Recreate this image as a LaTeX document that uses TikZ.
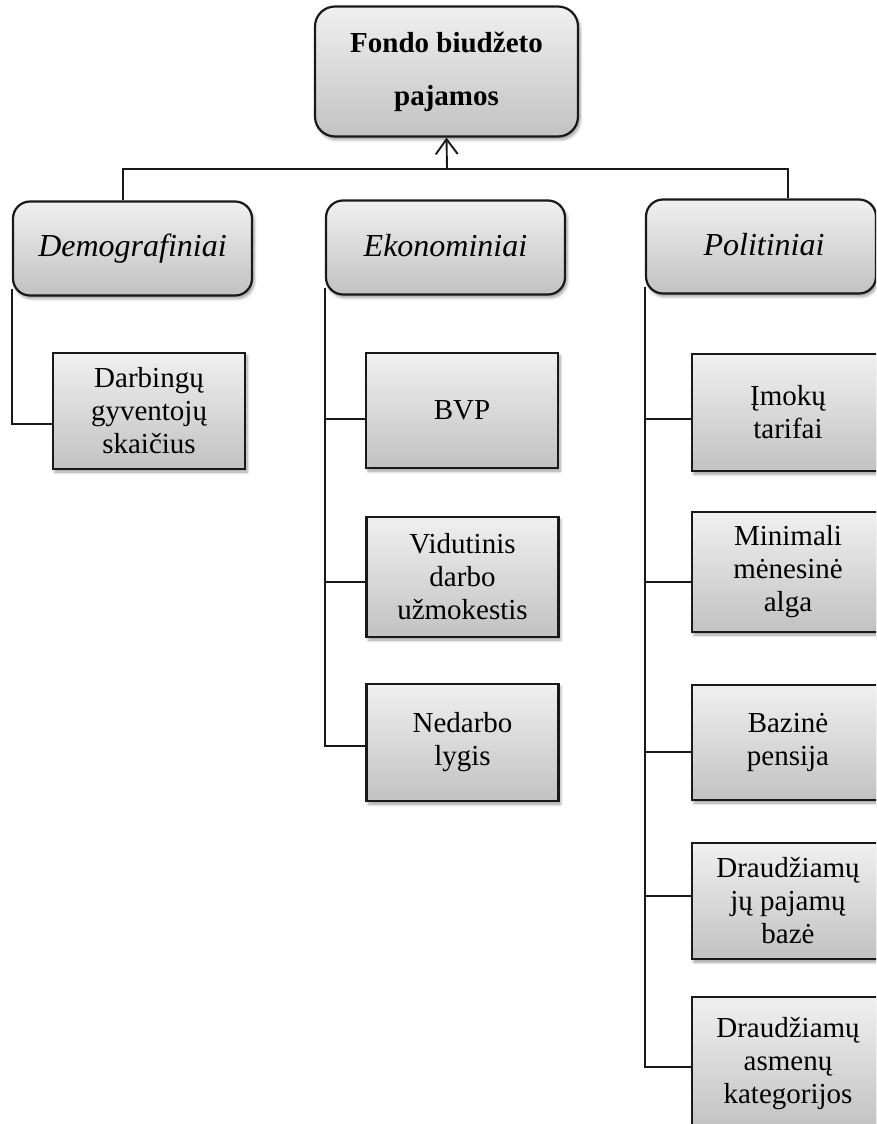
\documentclass[tikz,border=0pt]{standalone}
\usepackage{fontspec}
\setmainfont{Liberation Serif}
\usetikzlibrary{arrows.meta,shadows.blur,calc}

\tikzset{
  boxbase/.style={draw=black!90, line width=2.2pt, top color=black!6, bottom color=black!24,
    blur shadow={shadow xshift=2pt, shadow yshift=-3pt, shadow blur steps=6,
      shadow blur radius=3pt, shadow opacity=40},
    align=center, inner sep=0pt, text=black},
  topbox/.style={boxbase, rounded corners=20pt, minimum width=263pt, minimum height=130pt,
    font=\fontsize{29}{53}\selectfont\bfseries},
  catbox/.style={boxbase, rounded corners=17pt, minimum height=94pt,
    font=\fontsize{32}{38}\selectfont\itshape},
  leafbox/.style={boxbase, minimum width=192pt, font=\fontsize{29}{33}\selectfont},
  link/.style={draw=black!90, line width=1.9pt},
}

\begin{document}
\begin{tikzpicture}[x=1pt, y=-1pt]
  \path[use as bounding box] (0,0) rectangle (876,1124);
  \clip (0,0) rectangle (876,1124);

  % root
  \node[topbox] (top) at (446.5,71.5) {Fondo biudžeto\\pajamos};

  % factor groups
  \node[catbox, minimum width=239pt] (dem) at (132.5,248.5) {\raisebox{4pt}{Demografiniai}};
  \node[catbox, minimum width=239pt] (eko) at (445.5,247.5) {\raisebox{4pt}{Ekonominiai}};
  \node[catbox, minimum width=230pt] (pol) at (761,246.5) {\raisebox{4pt}{\hspace{6pt}Politiniai}};

  % demographic factors
  \node[leafbox, minimum height=116pt] (darb) at (149,411) {Darbingų\\gyventojų\\skaičius};

  % economic factors
  \node[leafbox, minimum height=115pt] (bvp) at (462,410.5) {BVP};
  \node[leafbox, minimum height=120pt] (vid) at (462.5,577) {Vidutinis\\darbo\\užmokestis};
  \node[leafbox, minimum height=117pt] (ned) at (462.5,742.5) {Nedarbo\\lygis};

  % political factors
  \node[leafbox, minimum height=117pt] (imok) at (788,412.5) {Įmokų\\tarifai};
  \node[leafbox, minimum height=120pt] (mma) at (788,572) {Minimali\\mėnesinė\\alga};
  \node[leafbox, minimum height=115pt] (baz) at (788,742.5) {Bazinė\\pensija};
  \node[leafbox, minimum height=116pt] (dpb) at (788,901) {Draudžiamų\\jų pajamų\\bazė};
  \node[leafbox, minimum height=133pt] (dak) at (788,1063.5) {Draudžiamų\\asmenų\\kategorijos};

  % groups feed the root
  \coordinate (hub) at (447,169);
  \draw[link] ([xshift=-9.5pt]dem.north) |- (hub) -| ([xshift=27pt]pol.north);
  \draw[link, -{Straight Barb[length=15pt, width=22pt]}] (hub) -- (top.south);

  % group members
  \draw[link] ([yshift=8pt]dem.south west) |- ([yshift=-13pt]darb.west);

  \draw[link] ([yshift=8pt]eko.south west) |- ([yshift=-8.5pt]bvp.west);
  \draw[link] ([yshift=8pt]eko.south west) |- ([yshift=-5pt]vid.west);
  \draw[link] ([yshift=8pt]eko.south west) |- ([yshift=-3.5pt]ned.west);

  \draw[link] ([yshift=8pt]pol.south west) |- ([yshift=-6.5pt]imok.west);
  \draw[link] ([yshift=8pt]pol.south west) |- ([yshift=-10pt]mma.west);
  \draw[link] ([yshift=8pt]pol.south west) |- ([yshift=-9.5pt]baz.west);
  \draw[link] ([yshift=8pt]pol.south west) |- ([yshift=5pt]dpb.west);
  \draw[link] ([yshift=8pt]pol.south west) |- ([yshift=-3.5pt]dak.west);
\end{tikzpicture}
\end{document}
